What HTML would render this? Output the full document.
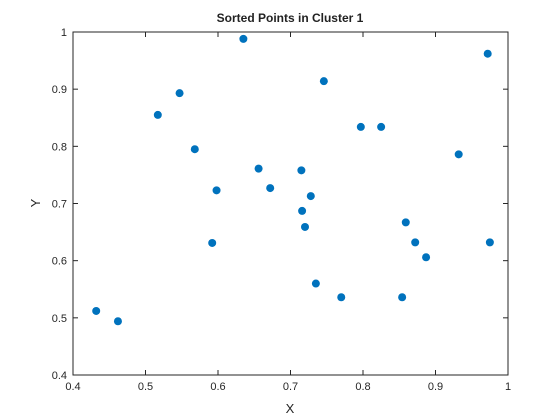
<!DOCTYPE html>
<html><head><meta charset="utf-8"><style>
body{margin:0;background:#fff;font-family:"Liberation Sans",Helvetica,sans-serif}
svg{display:block}
</style></head><body>
<svg id="chart" width="560" height="420" viewBox="0 0 560 420" xmlns="http://www.w3.org/2000/svg">
<rect width="560" height="420" fill="#fff"/>
<text x="290" y="22" text-anchor="middle" font-size="12" font-weight="bold" fill="#222">Sorted Points in Cluster 1</text>
<text x="290" y="413" text-anchor="middle" font-size="13" fill="#262626">X</text>
<text x="40" y="203" text-anchor="middle" font-size="13" fill="#262626" transform="rotate(-90 40 203)">Y</text>
<g id="axes"></g>
<g id="points"></g>
</svg>
<script>
const xVals=[0.432,0.462,0.517,0.547,0.568,0.592,0.598,0.635,0.656,0.672,0.715,0.716,0.720,0.728,0.735,0.746,0.770,0.797,0.825,0.854,0.859,0.872,0.887,0.932,0.972,0.975];
const yVals=[0.512,0.494,0.855,0.893,0.795,0.631,0.723,0.988,0.761,0.727,0.758,0.687,0.659,0.713,0.560,0.914,0.536,0.834,0.834,0.536,0.667,0.632,0.606,0.786,0.962,0.632];
const xTicks=[0.4,0.5,0.6,0.7,0.8,0.9,1];
const yTicks=[0.4,0.5,0.6,0.7,0.8,0.9,1];
const xTickLabels=["0.4","0.5","0.6","0.7","0.8","0.9","1"];
const yTickLabels=["0.4","0.5","0.6","0.7","0.8","0.9","1"];
const L=73,R=508,T=32,B=375,x0=0.4,x1=1,y0=0.4,y1=1;
const sx=v=>L+(v-x0)/(x1-x0)*(R-L);
const sy=v=>B-(v-y0)/(y1-y0)*(B-T);
const NS="http://www.w3.org/2000/svg";
const ax=document.getElementById('axes'),pg=document.getElementById('points');
function mk(t,a,p){const e=document.createElementNS(NS,t);for(const k in a)e.setAttribute(k,a[k]);p.appendChild(e);return e;}
const box=mk('rect',{x:L,y:T,width:R-L,height:B-T,fill:'none',stroke:'#262626','stroke-width':1},ax);


xTicks.forEach((v,i)=>{const x=sx(v);
mk('line',{x1:x,x2:x,y1:B,y2:B-5,stroke:'#262626'},ax);mk('line',{x1:x,x2:x,y1:T,y2:T+5,stroke:'#262626'},ax);
const t=mk('text',{x:x,y:B+15,'text-anchor':'middle','font-size':11,fill:'#262626'},ax);t.textContent=xTickLabels[i];

});
yTicks.forEach((v,i)=>{const y=sy(v);
mk('line',{x1:L,x2:L+5,y1:y,y2:y,stroke:'#262626'},ax);mk('line',{x1:R,x2:R-5,y1:y,y2:y,stroke:'#262626'},ax);
const t=mk('text',{x:L-6,y:y+4,'text-anchor':'end','font-size':11,fill:'#262626'},ax);t.textContent=yTickLabels[i];

});
xVals.forEach((v,i)=>{const c=mk('circle',{cx:sx(v),cy:sy(yVals[i]),r:4,fill:'#0072BD'},pg);

});
</script>
</body></html>
